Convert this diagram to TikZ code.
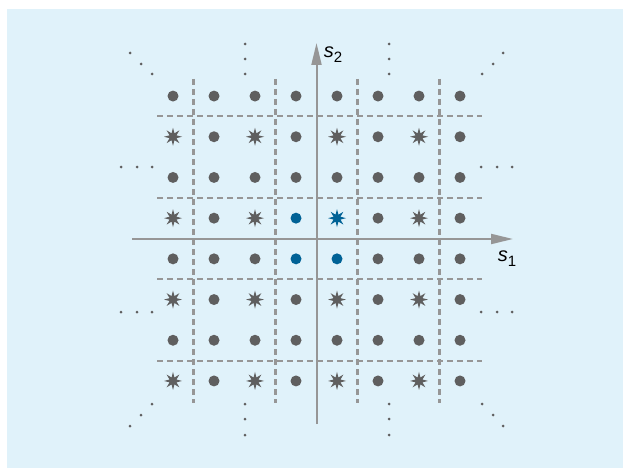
\documentclass[tikz,border=0pt]{standalone}
\usepackage{fontspec}
\setmainfont{Liberation Sans}
\usetikzlibrary{shapes.geometric, arrows.meta}

\definecolor{bgblue}{RGB}{224,242,250}
\definecolor{ptgray}{RGB}{95,95,95}
\definecolor{ptblue}{RGB}{0,98,150}
\definecolor{axgray}{RGB}{150,150,150}
\definecolor{dashgray}{RGB}{150,150,150}

\newcommand{\sublbl}[1]{\itshape s\raisebox{-5pt}{\upshape\fontsize{15}{15}\selectfont #1}}

\begin{document}
\begin{tikzpicture}[
  x=1pt, y=-1pt,
  dot/.style={circle, fill=#1, inner sep=0pt, minimum size=11pt},
  dot/.default=ptgray,
  starpt/.style={star, star points=8, star point ratio=2.4, fill=#1,
                 inner sep=0pt, minimum size=18pt},
  starpt/.default=ptgray,
  more/.style={circle, fill=ptgray, inner sep=0pt, minimum size=3pt},
  sepline/.style={dashgray, line width=2.2pt, dash pattern=on 6pt off 4pt},
  axisline/.style={axgray, line width=2pt, -{Triangle[length=22pt, width=10pt]}},
  lbl/.style={font=\fontsize{20}{22}\selectfont, inner sep=0pt},
]

%% ===== FRAME =====
\useasboundingbox (0,0) rectangle (623,468);
\fill[bgblue] (7,9) rectangle (623,468);

%% ===== DECISION BOUNDARIES =====
\foreach \k in {-3,-1,1,3} {
  \draw[sepline] ({316.5+41*\k},79) -- ({316.5+41*\k},403);
  \draw[sepline] (157,{238.5+40.7*\k}) -- (482,{238.5+40.7*\k});
}

%% ===== AXES =====
\coordinate (o1) at (132,239);
\coordinate (e1) at (513,239);
\coordinate (o2) at (316.5,424);
\coordinate (e2) at (316.5,43);
\draw[axisline] (o1) -- (e1);
\draw[axisline] (o2) -- (e2);

\node[lbl] (s1) at (507,259) {\sublbl{1}};
\node[lbl] (s2) at (333,55) {\sublbl{2}};

%% ===== CONSTELLATION POINTS =====
\foreach \i in {1,...,8} {
  \foreach \j in {1,...,8} {
    \pgfmathtruncatemacro{\shp}{(isodd(\i) && !isodd(\j)) ? 1 : 0}
    \pgfmathtruncatemacro{\cen}{(\i>3 && \i<6 && \j>3 && \j<6) ? 1 : 0}
    \def\ptcol{ptgray}
    \ifnum\cen=1 \def\ptcol{ptblue}\fi
    \ifnum\shp=1
      \node[starpt=\ptcol] (p-\i-\j) at ({316.5+41*(\i-4.5)},{238.5+40.7*(\j-4.5)}) {};
    \else
      \node[dot=\ptcol] (p-\i-\j) at ({316.5+41*(\i-4.5)},{238.5+40.7*(\j-4.5)}) {};
    \fi
  }
}

%% ===== CONTINUATION DOTS =====
\foreach \x/\y [count=\n] in {130/53, 141/64, 152/74, 245/44, 245/59, 245/74,
    389/44, 389/59, 389/74, 482/74, 493/64, 503/53,
    121/167, 137/167, 152/167, 481/167, 497/167, 512/167,
    121/312, 137/312, 152/312, 481/312, 497/312, 512/312,
    152/404, 141/415, 130/426, 245/404, 245/419, 245/435,
    389/404, 389/419, 389/435, 482/404, 493/415, 503/426}
  \node[more] (m\n) at (\x,\y) {};

\end{tikzpicture}
\end{document}
